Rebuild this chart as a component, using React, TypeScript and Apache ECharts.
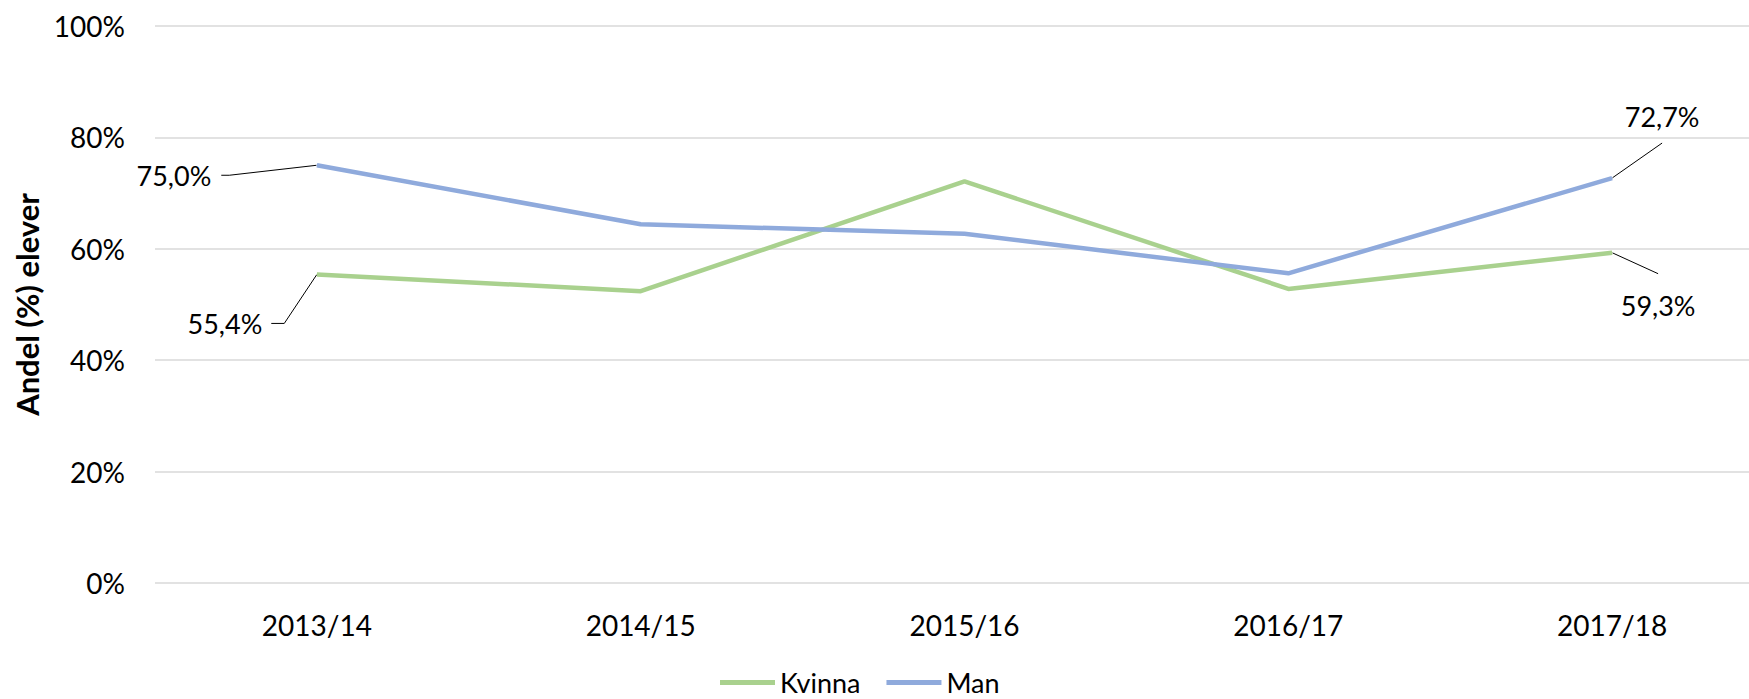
import React, { useEffect, useRef } from "react";
import * as echarts from "echarts";

const categories = ["2013/14", "2014/15", "2015/16", "2016/17", "2017/18"];
const kvinnaValues = [55.4, 52.4, 72.1, 52.8, 59.3];
const manValues = [75.0, 64.4, 62.7, 55.6, 72.7];
const yTicks = [0, 20, 40, 60, 80, 100];

const fmt = (v: number) => v.toFixed(1).replace(".", ",") + "%";

export default function App() {
  const ref = useRef<HTMLDivElement>(null);
  useEffect(() => {
    document.body.style.margin = "0";
    document.body.style.overflow = "hidden";
    const chart = echarts.init(ref.current!, null, { renderer: "svg" });
    const font = "Lato";
    const clear = "rgba(0,0,0,0)";
    // per-point label styling for the first and last points (leader-line geometry)
    const kvinnaLabelCfg: Record<number, any> = {
      0: { label: { show: true, padding: [0, 9, 0, 0], backgroundColor: clear }, labelLine: { length2: 13 } },
      4: { label: { show: true, padding: [18, 0, 18, 0], backgroundColor: clear }, labelLine: { length2: 0 } },
    };
    const manLabelCfg: Record<number, any> = {
      0: { label: { show: true, padding: [0, 10, 0, 0], backgroundColor: clear }, labelLine: { length2: 8 } },
      4: { label: { show: true, padding: [13, 0, 13, 0], backgroundColor: clear }, labelLine: { length2: 0 } },
    };
    const build = (vals: number[], cfg: Record<number, any>) =>
      vals.map((v, i) => (cfg[i] ? { value: v, ...cfg[i] } : { value: v }));
    const labelBase = {
      show: false,
      position: "inside",
      formatter: (p: any) => fmt(p.value),
      fontFamily: font,
      fontSize: 27,
      lineHeight: 28,
      color: "#000",
    };
    const labelLine = {
      show: true,
      lineStyle: { color: "#000", width: 1 },
    };
    chart.setOption({
      animation: false,
      textStyle: { fontFamily: font },
      grid: { left: 155, right: 6, top: 26, bottom: 116, containLabel: false },
      legend: {
        left: 715,
        top: 664,
        itemWidth: 55,
        itemHeight: 5,
        itemGap: 26,
        icon: "rect",
        textStyle: { fontFamily: font, fontSize: 27, lineHeight: 27, color: "#000", padding: [0, 0, 0, 0] },
        data: ["Kvinna", "Man"],
      },
      xAxis: {
        type: "category",
        data: categories,
        boundaryGap: true,
        axisLine: { show: false },
        axisTick: { show: false },
        axisLabel: { fontFamily: font, fontSize: 28, color: "#000", margin: 28 },
      },
      yAxis: {
        type: "value",
        min: yTicks[0],
        max: yTicks[yTicks.length - 1],
        interval: 20,
        name: "Andel (%) elever",
        nameLocation: "middle",
        nameGap: 108,
        nameTextStyle: { fontFamily: font, fontSize: 31, fontWeight: "bold", color: "#000" },
        axisLine: { show: false },
        axisTick: { show: false },
        axisLabel: { fontFamily: font, fontSize: 28, color: "#000", margin: 30, formatter: "{value}%" },
        splitLine: { lineStyle: { color: "#D9D9D9", width: 1.5 } },
      },
      series: [
        {
          name: "Kvinna",
          type: "line",
          data: build(kvinnaValues, kvinnaLabelCfg),
          symbol: "circle",
          symbolSize: 1,
          showSymbol: true,
          lineStyle: { color: "#A9D18E", width: 4.5 },
          itemStyle: { color: "#A9D18E" },
          label: labelBase,
          labelLine,
          labelLayout: (p: any) =>
            p.dataIndex === 0 ? { dx: -92 + 4.5, dy: 49 } : { dx: 46, dy: 53 },
          z: 2,
        },
        {
          name: "Man",
          type: "line",
          data: build(manValues, manLabelCfg),
          symbol: "circle",
          symbolSize: 1,
          showSymbol: true,
          lineStyle: { color: "#8FAADC", width: 4.5 },
          itemStyle: { color: "#8FAADC" },
          label: labelBase,
          labelLine,
          labelLayout: (p: any) =>
            p.dataIndex === 0 ? { dx: -143 + 5, dy: 10 } : { dx: 50, dy: -62 },
          z: 3,
        },
      ],
    });
    return () => chart.dispose();
  }, []);
  return (
    <div style={{ width: 1749, height: 699, overflow: "hidden", position: "relative" }}>
      <div ref={ref} style={{ width: 1780, height: 699 }} />
    </div>
  );
}
